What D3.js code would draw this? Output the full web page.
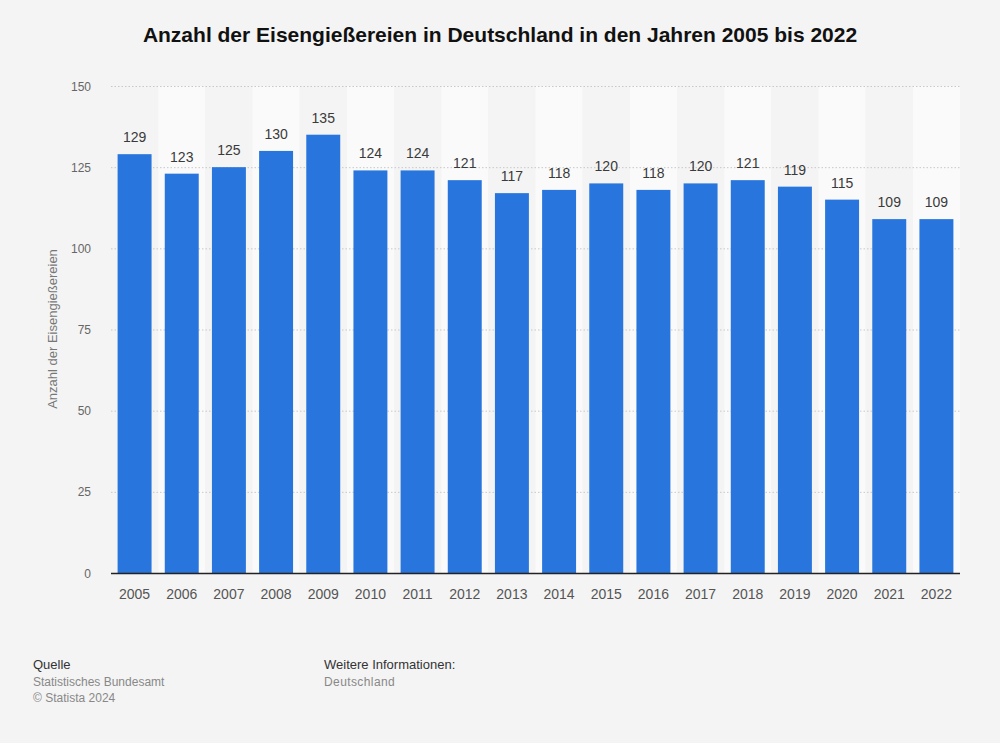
<!DOCTYPE html>
<html><head><meta charset="utf-8">
<script src="https://cdn.jsdelivr.net/npm/d3@7"></script>
<style>body{margin:0;background:#f4f4f4;font-family:"Liberation Sans",Arial,sans-serif}</style>
</head><body>
<svg id="c" width="1000" height="743"></svg>
<script>
const years = ["2005","2006","2007","2008","2009","2010","2011","2012","2013","2014","2015","2016","2017","2018","2019","2020","2021","2022"];
const values = [129,123,125,130,135,124,124,121,117,118,120,118,120,121,119,115,109,109];
const yTicks = [0,25,50,75,100,125,150];

const svg = d3.select("#c");
svg.append("rect").attr("width",1000).attr("height",743).attr("fill","#f4f4f4");
const L=111,R=960,T=86,B=573;
const x = d3.scaleBand().domain(years).range([L,R]).paddingInner(0.28).paddingOuter(0.14);
const xb = d3.scaleBand().domain(years).range([L,R]);
const y = d3.scaleLinear().domain([0,150]).range([B,T]);

svg.append("g").selectAll("rect").data(years).join("rect")
 .attr("x",d=>xb(d)).attr("width",xb.bandwidth()).attr("y",T).attr("height",B-T)
 .attr("fill",(d,i)=>i%2?"#fafafa":"#f4f4f4");

svg.append("g").selectAll("line").data(yTicks.filter(d=>d>0)).join("line")
 .attr("x1",L).attr("x2",R).attr("y1",d=>y(d)+0.5).attr("y2",d=>y(d)+0.5)
 .attr("stroke","#c8c8c8").attr("stroke-dasharray","1.5,2");

svg.append("g").selectAll("text").data(yTicks).join("text")
 .attr("x",91).attr("y",d=>y(d)+4.5).attr("text-anchor","end")
 .attr("font-size",12).attr("fill","#666").text(d=>d);

svg.append("g").selectAll("rect").data(values).join("rect")
 .attr("x",(d,i)=>x(years[i])).attr("width",x.bandwidth())
 .attr("y",d=>y(d)).attr("height",d=>B-y(d)).attr("fill","#2876dd");

svg.append("g").selectAll("text").data(values).join("text")
 .attr("x",(d,i)=>x(years[i])+x.bandwidth()/2).attr("y",d=>y(d)-12)
 .attr("text-anchor","middle").attr("font-size",14).attr("fill","#3a3a3a").text(d=>d);

svg.append("line").attr("x1",L).attr("x2",R).attr("y1",B+0.5).attr("y2",B+0.5).attr("stroke","#222").attr("stroke-width",1.3);

svg.append("g").selectAll("text").data(years).join("text")
 .attr("x",d=>x(d)+x.bandwidth()/2).attr("y",599).attr("text-anchor","middle")
 .attr("font-size",14).attr("fill","#555").text(d=>d);

svg.append("text").attr("transform","translate(57,329) rotate(-90)").attr("text-anchor","middle")
 .attr("font-size",13).attr("fill","#777").text("Anzahl der Eisengießereien");

svg.append("text").attr("x",500).attr("y",42).attr("text-anchor","middle")
 .attr("font-size",21).attr("font-weight","bold").attr("fill","#111")
 .text("Anzahl der Eisengießereien in Deutschland in den Jahren 2005 bis 2022");

const f = svg.append("g").attr("font-size",12);
f.append("text").attr("x",33).attr("y",669).attr("fill","#333").attr("font-size",13).text("Quelle");
f.append("text").attr("x",33).attr("y",686).attr("fill","#888").text("Statistisches Bundesamt");
f.append("text").attr("x",33).attr("y",702).attr("fill","#888").text("© Statista 2024");
f.append("text").attr("x",324).attr("y",669).attr("fill","#333").attr("font-size",13).text("Weitere Informationen:");
f.append("text").attr("x",324).attr("y",686).attr("fill","#888").attr("letter-spacing",0.4).text("Deutschland");
</script>
</body></html>
